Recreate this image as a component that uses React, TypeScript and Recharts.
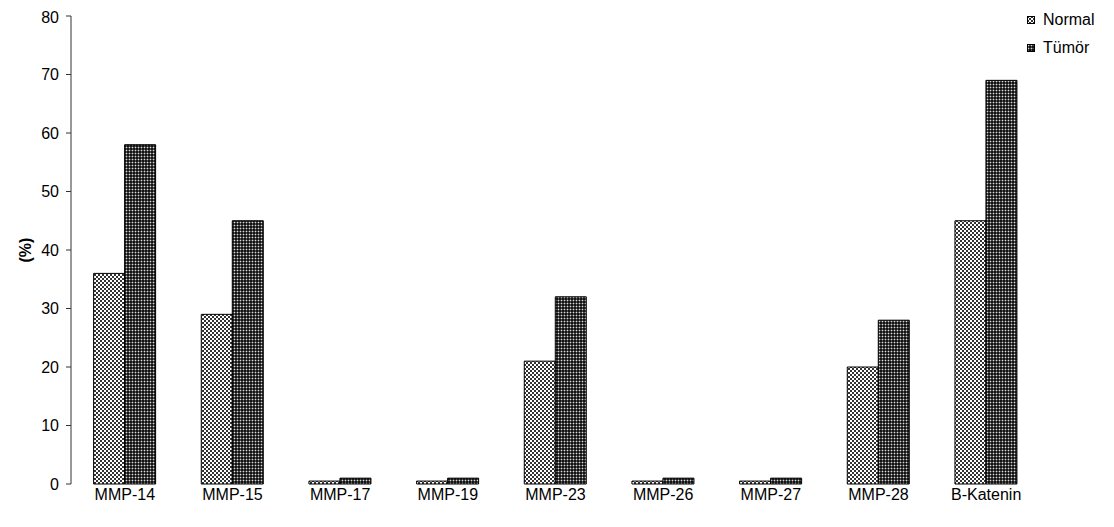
import React from "react";
import { BarChart, Bar, XAxis, YAxis, Label } from "recharts";

// Expression rates per marker (%)
const categories = ["MMP-14", "MMP-15", "MMP-17", "MMP-19", "MMP-23", "MMP-26", "MMP-27", "MMP-28", "B-Katenin"];
const normalValues = [36, 29, 0.5, 0.5, 21, 0.5, 0.5, 20, 45];
const tumorValues = [58, 45, 1, 1, 32, 1, 1, 28, 69];
const seriesNames = ["Normal", "Tümör"];
const yTicks = [0, 10, 20, 30, 40, 50, 60, 70, 80];

const data = categories.map((name, i) => ({
  name,
  normal: normalValues[i],
  tumor: tumorValues[i],
  slot: i,
}));

// boundary ticks between categories, on a numeric companion axis
const boundaryTicks = categories.map((_, i) => i).concat([categories.length]);

const FONT = "Arial, 'Liberation Sans', sans-serif";

function PatternDefs() {
  return (
    <defs>
      <pattern id="checkNormal" width="4" height="4" patternUnits="userSpaceOnUse">
        <rect width="4" height="4" fill="#ffffff" />
        <rect x="0" y="0" width="2" height="2" fill="#333333" />
        <rect x="2" y="2" width="2" height="2" fill="#333333" />
      </pattern>
      <pattern id="dotTumor" width="3" height="3" patternUnits="userSpaceOnUse">
        <rect width="3" height="3" fill="#141414" />
        <rect x="0" y="1" width="3" height="1" fill="#505050" />
        <rect x="1" y="0" width="1" height="3" fill="#505050" />
        <rect x="1" y="1" width="1" height="1" fill="#d8d8d8" />
      </pattern>
    </defs>
  );
}

const fills = ["url(#checkNormal)", "url(#dotTumor)"];

function LegendBox() {
  return (
    <div style={{ position: "absolute", left: 1019, top: 3, fontFamily: FONT, fontSize: 16, color: "#000" }}>
      {seriesNames.map((n, i) => (
        <div key={n} style={{ display: "flex", alignItems: "center", height: 18, marginBottom: i === 0 ? 10 : 0 }}>
          <svg width="8" height="8">
            <PatternDefs />
            <rect x="0.5" y="0.5" width="7" height="7" fill={fills[i]} stroke="#000" strokeWidth="1" />
          </svg>
          <span style={{ marginLeft: 8 }}>{n}</span>
        </div>
      ))}
    </div>
  );
}

export default function App() {
  return (
    <div style={{ position: "relative", width: 1106, height: 519 }}>
      <BarChart
        width={1106}
        height={519}
        data={data}
        margin={{ top: 8, right: 74, bottom: 13, left: 0 }}
        barCategoryGap="21%"
        barGap={0}
      >
        <PatternDefs />
        <XAxis
          xAxisId="bounds"
          type="number"
          dataKey="slot"
          domain={[0, categories.length]}
          ticks={boundaryTicks}
          tick={false}
          height={0}
          axisLine={{ stroke: "#333", strokeWidth: 1 }}
          tickLine={{ stroke: "#333", strokeWidth: 1 }}
          tickSize={6}
        />
        <XAxis
          xAxisId="cat"
          dataKey="name"
          height={30}
          axisLine={false}
          tickLine={false}
          tickSize={4}
          tickMargin={1}
          interval={0}
          tick={{ fill: "#000", fontSize: 16, fontFamily: FONT }}
        />
        <YAxis
          width={63}
          domain={[0, 80]}
          ticks={yTicks}
          tickSize={5}
          tickMargin={7}
          axisLine={{ stroke: "#333", strokeWidth: 1 }}
          tickLine={{ stroke: "#333", strokeWidth: 1 }}
          tick={{ fill: "#000", fontSize: 16, fontFamily: FONT }}
        >
          <Label
            value="(%)"
            angle={-90}
            position="center"
            dx={-14}
            style={{ fontSize: 16, fontWeight: "bold", fontFamily: FONT, fill: "#000" }}
          />
        </YAxis>
        <Bar xAxisId="cat" dataKey="normal" name={seriesNames[0]} fill={fills[0]} stroke="#000" strokeWidth={1} isAnimationActive={false} />
        <Bar xAxisId="cat" dataKey="tumor" name={seriesNames[1]} fill={fills[1]} stroke="#000" strokeWidth={1} isAnimationActive={false} />
      </BarChart>
      <LegendBox />
    </div>
  );
}
